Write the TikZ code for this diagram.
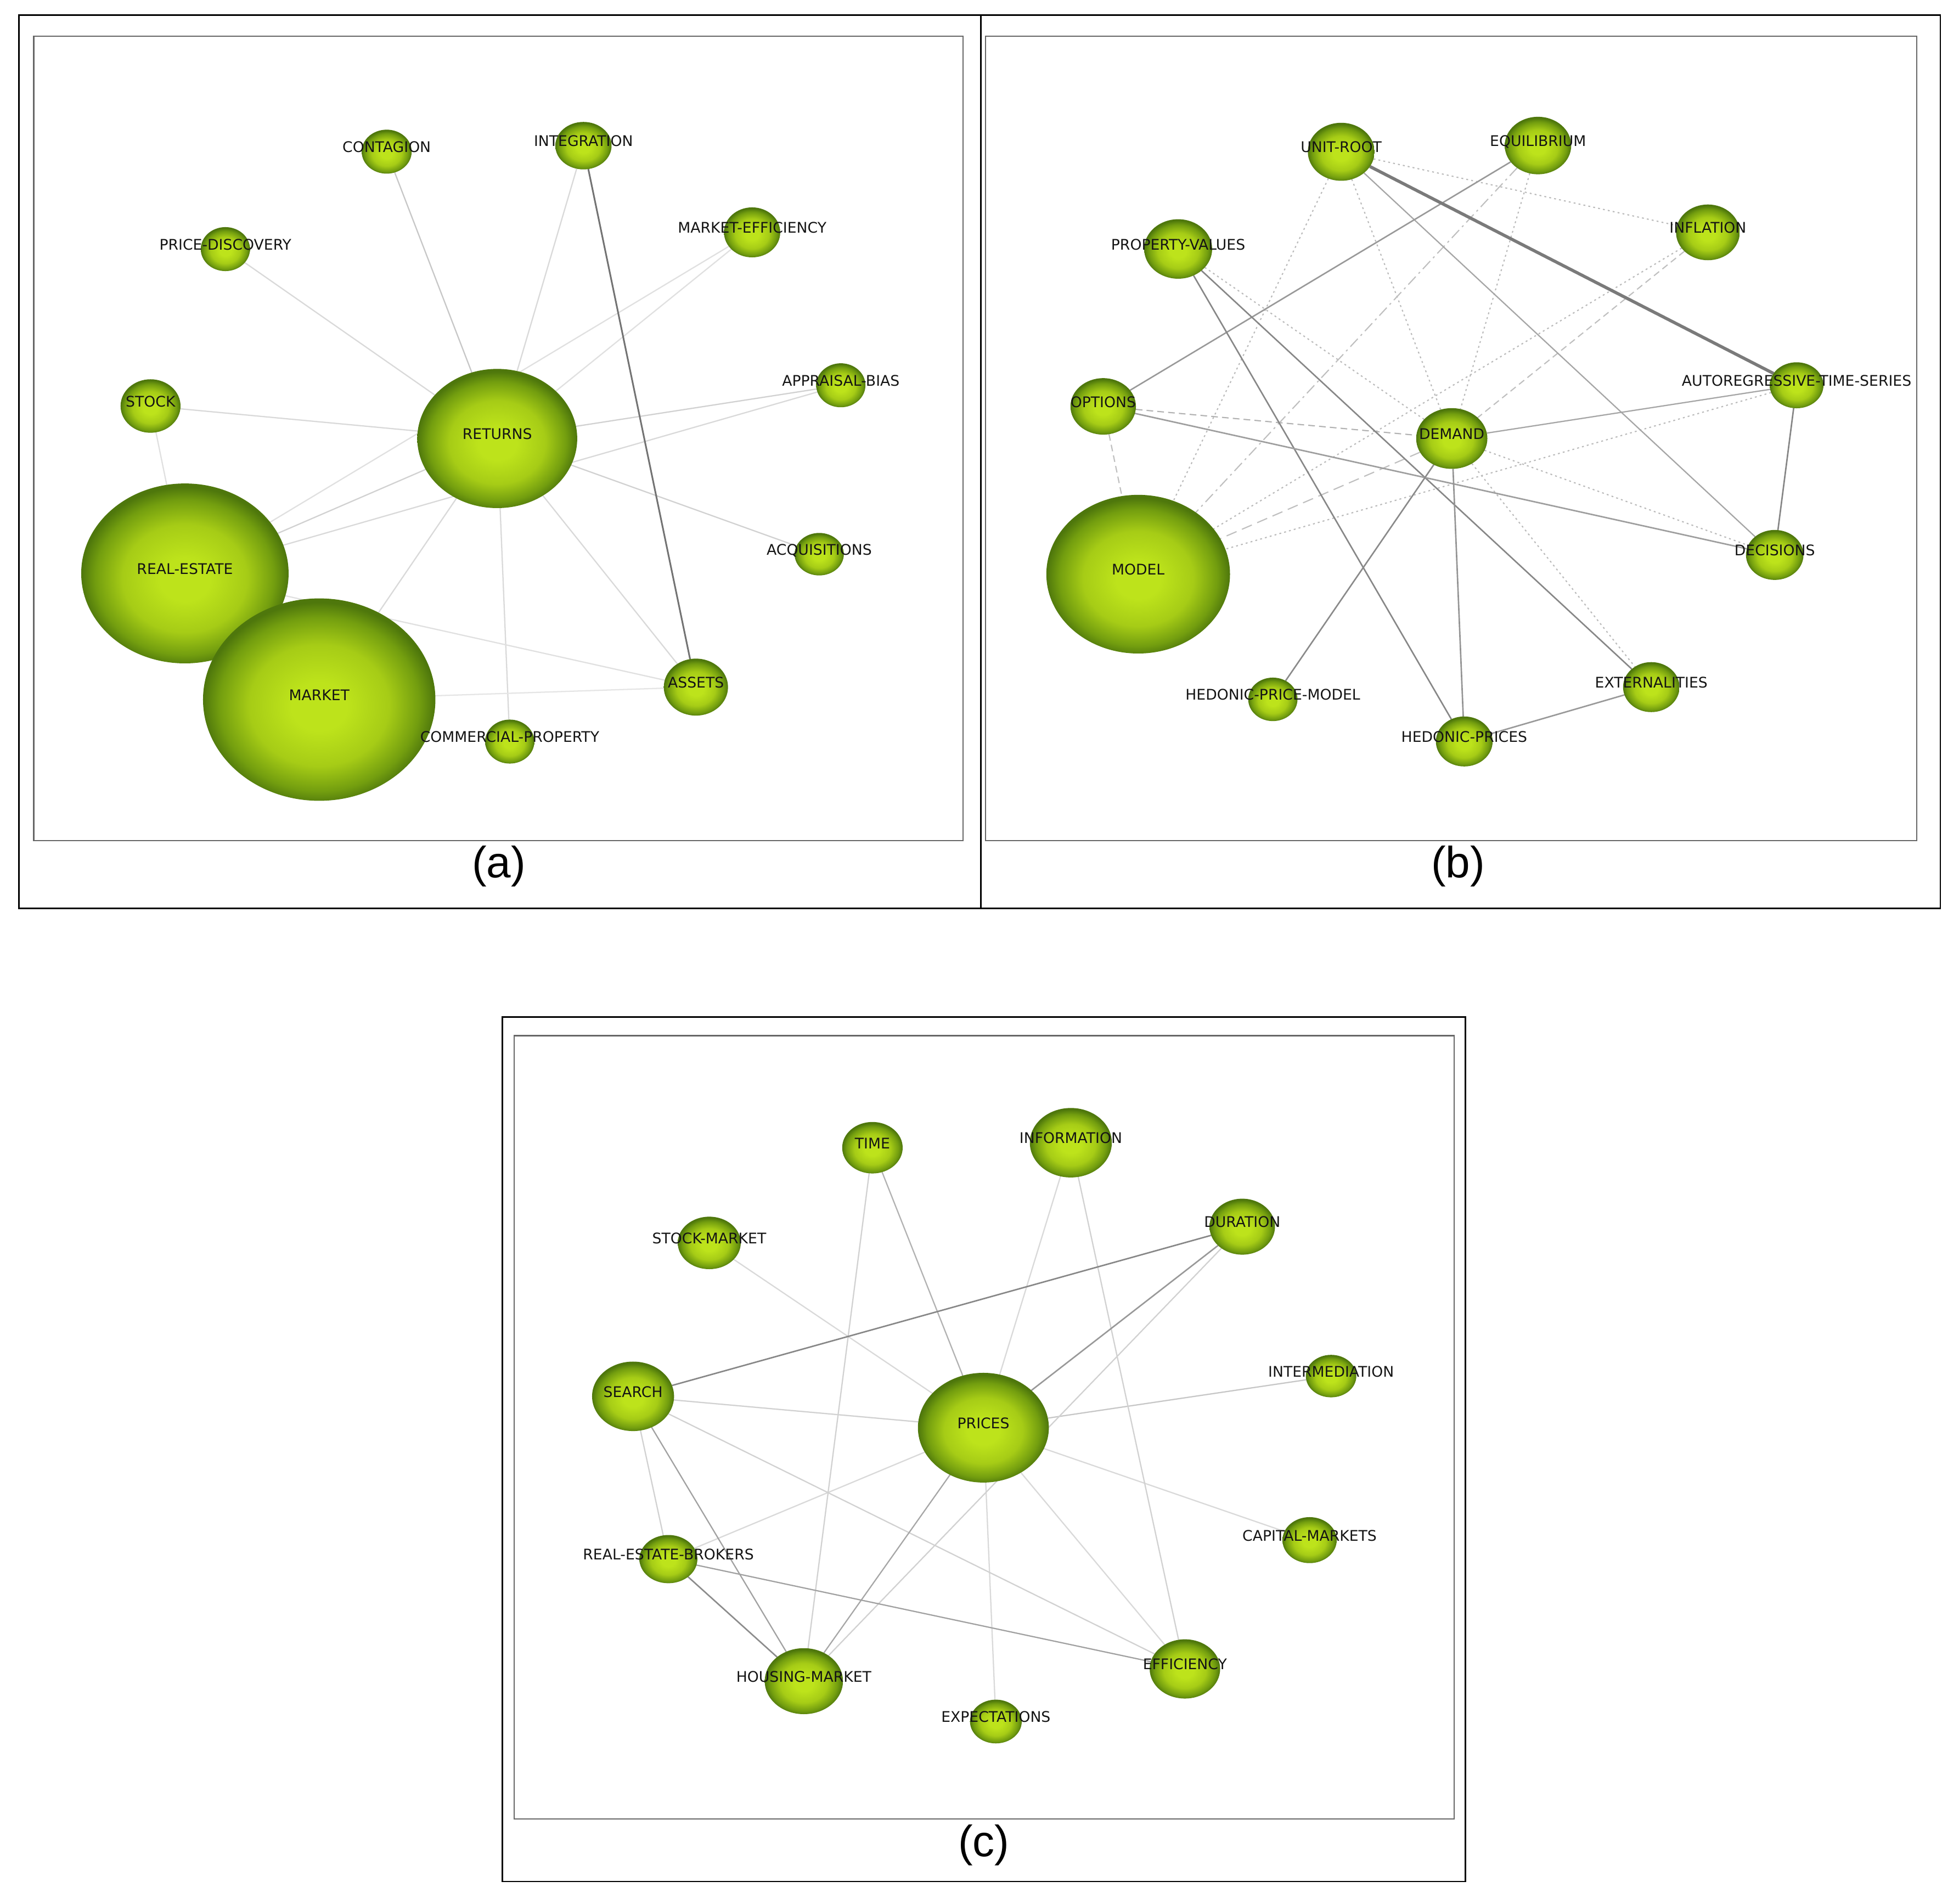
\documentclass[tikz,border=0pt]{standalone}
\usepackage{fontspec}
\usetikzlibrary{shapes.geometric}
\newfontfamily\labfont{DejaVu Sans}
\newfontfamily\capfont{Liberation Sans}
\definecolor{nbA}{HTML}{BDE31B}
\definecolor{nbB}{HTML}{A6CC16}
\definecolor{nbC}{HTML}{739E0F}
\definecolor{nbD}{HTML}{4E770C}
\pgfdeclareradialshading{nodeball}{\pgfpoint{0bp}{-2bp}}{color(0bp)=(nbA); color(6bp)=(nbA); color(15bp)=(nbB); color(21.5bp)=(nbC); color(25bp)=(nbD); color(50bp)=(nbD)}
\pgfdeclarelayer{back}
\pgfdeclarelayer{bg}
\pgfdeclarelayer{fg}
\pgfsetlayers{back,bg,main,fg}
\newcommand\mkball[6]{%
  \node[ballnode, minimum width=#4*0.6mm, minimum height=#5*0.6mm] (#1) at (#2,#3) {};
  \begin{pgfonlayer}{fg}\node[labnode] (#1-l) at (#2,#3+0.6) {#6};\end{pgfonlayer}}
\begin{document}
\begin{tikzpicture}[x=0.3mm,y=-0.3mm,
  ballnode/.style={ellipse, inner sep=0pt, outer sep=0pt, shading=nodeball, draw=none},
  labnode/.style={anchor=base, inner sep=0pt, font=\labfont\fontsize{10}{11}\selectfont, text=black!92},
  capnode/.style={inner sep=0pt, font=\capfont\fontsize{30}{30}\selectfont},
  frameout/.style={draw=black, line width=0.36mm},
  framein/.style={draw=black!60, line width=0.28mm},
  el/.style={draw=black!15, line width=0.3mm},
  em/.style={draw=black!35, line width=0.3mm},
  ed/.style={draw=black!50, line width=0.35mm},
  dt/.style={draw=black!27, line width=0.28mm, dash pattern=on 0.45mm off 0.75mm},
  ds/.style={draw=black!25, line width=0.28mm, dash pattern=on 1.6mm off 1mm},
  dl/.style={draw=black!25, line width=0.28mm, dash pattern=on 2.6mm off 1.4mm},
  dd/.style={draw=black!25, line width=0.28mm, dash pattern=on 2.6mm off 1mm on 0.5mm off 1mm}]
\begin{pgfonlayer}{back}
\fill[white] (0,0) rectangle (1568,1524);
\end{pgfonlayer}
\useasboundingbox (0,0) rectangle (1568,1524);
% frames
\draw[frameout] (15,12) rectangle (785,727);
\draw[frameout] (785,12) rectangle (1553,727);
\draw[frameout] (402,814) rectangle (1173,1506);
\draw[framein] (27,29) rectangle (771,673);
\draw[framein] (789,29) rectangle (1534,673);
\draw[framein] (411.5,829) rectangle (1164,1456);
\node[capnode] (capa) at (399.3,693.5) {(a)};
\node[capnode] (capb) at (1167,693.5) {(b)};
\node[capnode] (capc) at (787.5,1477) {(c)};
% ---------- panel (a)
\mkball{aCON}{309.5}{121.4}{20}{17.6}{CONTAGION}
\mkball{aINT}{467}{116.6}{22.5}{19}{INTEGRATION}
\mkball{aPD}{180.4}{199.4}{19.7}{17.6}{PRICE-DISCOVERY}
\mkball{aME}{602}{186}{22.5}{20}{MARKET-EFFICIENCY}
\mkball{aST}{120.5}{325}{24}{21.4}{STOCK}
\mkball{aRET}{398}{351}{64}{55.7}{RETURNS}
\mkball{aAB}{673}{308.4}{19.7}{17.6}{APPRAISAL-BIAS}
\mkball{aRE}{148}{459}{83}{72}{REAL-ESTATE}
\mkball{aACQ}{655.7}{443.6}{19.7}{17}{ACQUISITIONS}
\mkball{aMK}{255.5}{560}{93}{81}{MARKET}
\mkball{aAS}{557}{550}{25.7}{22.8}{ASSETS}
\mkball{aCP}{408}{593.6}{19.7}{17.6}{COMMERCIAL-PROPERTY}
\begin{pgfonlayer}{bg}
\draw[el, draw=black!22] (aRET) -- (aCON);
\draw[el] (aRET) -- (aINT);
\draw[el] (aRET) -- (aPD);
\draw[el, draw=black!12] (aRET) -- (aME);
\draw[el, draw=black!12] (aRE) -- (aME);
\draw[el] (aRET) -- (aST);
\draw[el, draw=black!12] (aST) -- (aRE);
\draw[el, draw=black!18] (aRET) -- (aAB);
\draw[el] (aRE) -- (aAB);
\draw[el, draw=black!18] (aRET) -- (aACQ);
\draw[el, draw=black!18] (aRET) -- (aRE);
\draw[el] (aRET) -- (aMK);
\draw[el] (aRET) -- (aAS);
\draw[el] (aRET) -- (aCP);
\draw[el, draw=black!10] (aMK) -- (aAS);
\draw[el, draw=black!12] (aRE) -- (aAS);
\draw[ed, draw=black!55, line width=0.4mm] (aINT) -- (aAS);
\end{pgfonlayer}
% ---------- panel (b)
\mkball{bUR}{1073.5}{121.5}{26.7}{23.2}{UNIT-ROOT}
\mkball{bEQ}{1231}{116.5}{26.6}{23}{EQUILIBRIUM}
\mkball{bINF}{1367}{186}{25.5}{22.3}{INFLATION}
\mkball{bPV}{943}{199.3}{27.2}{23.8}{PROPERTY-VALUES}
\mkball{bAR}{1438}{308.4}{21.5}{18.4}{AUTOREGRESSIVE-TIME-SERIES}
\mkball{bOPT}{883}{325.3}{26.2}{22.6}{OPTIONS}
\mkball{bDEM}{1162}{351}{28.5}{24.3}{DEMAND}
\mkball{bDEC}{1420.5}{444.2}{23}{20}{DECISIONS}
\mkball{bMOD}{911}{459.6}{73.5}{63.5}{MODEL}
\mkball{bHPM}{1018.8}{559.8}{19.7}{17.4}{HEDONIC-PRICE-MODEL}
\mkball{bEXT}{1321.7}{550}{22.6}{20}{EXTERNALITIES}
\mkball{bHP}{1172}{593.5}{22.7}{20}{HEDONIC-PRICES}
\begin{pgfonlayer}{bg}
\draw[dt] (bUR) -- (bINF);
\draw[dt] (bUR) -- (bDEM);
\draw[dt] (bUR) -- (bMOD);
\draw[dt] (bEQ) -- (bDEM);
\draw[dt] (bPV) -- (bDEM);
\draw[dt] (bINF) -- (bMOD);
\draw[dt] (bAR) -- (bMOD);
\draw[dt] (bDEM) -- (bDEC);
\draw[dt] (bDEM) -- (bEXT);
\draw[ds, draw=black!30] (bOPT) -- (bDEM);
\draw[ds] (bOPT) -- (bMOD);
\draw[ds] (bINF) -- (bDEM);
\draw[dl] (bDEM) -- (bMOD);
\draw[dd] (bEQ) -- (bMOD);
\draw[em] (bUR) -- (bDEC);
\draw[em] (bDEM) -- (bAR);
\draw[ed, draw=black!40] (bEQ) -- (bOPT);
\draw[ed, draw=black!47] (bPV) -- (bHP);
\draw[ed, draw=black!47] (bPV) -- (bEXT);
\draw[ed, draw=black!38] (bOPT) -- (bDEC);
\draw[ed, draw=black!46] (bDEM) -- (bHPM);
\draw[ed, draw=black!42] (bDEM) -- (bHP);
\draw[ed, draw=black!48] (bAR) -- (bDEC);
\draw[ed, draw=black!40] (bEXT) -- (bHP);
\draw[ed, draw=black!52, line width=0.75mm] (bUR) -- (bAR);
\end{pgfonlayer}
% ---------- panel (c)
\mkball{cTIME}{698.3}{918.7}{24.2}{20.6}{TIME}
\mkball{cINF}{857.1}{914.7}{32.8}{27.8}{INFORMATION}
\mkball{cSM}{567.7}{994.9}{25.2}{21}{STOCK-MARKET}
\mkball{cDUR}{994.3}{981.9}{26.2}{22.4}{DURATION}
\mkball{cSE}{506.7}{1117.7}{32.8}{27.8}{SEARCH}
\mkball{cPR}{787.1}{1142.8}{52.4}{43.9}{PRICES}
\mkball{cINT}{1065.4}{1101.5}{20.2}{17}{INTERMEDIATION}
\mkball{cCM}{1048.2}{1232.8}{21.7}{18.4}{CAPITAL-MARKETS}
\mkball{cREB}{535}{1248}{23.2}{19.3}{REAL-ESTATE-BROKERS}
\mkball{cHM}{643.4}{1345.7}{31.3}{26.4}{HOUSING-MARKET}
\mkball{cEXP}{797.1}{1378}{20.7}{17.5}{EXPECTATIONS}
\mkball{cEFF}{948.4}{1335.9}{28.2}{23.7}{EFFICIENCY}
\begin{pgfonlayer}{bg}
\draw[el] (cPR) -- (cINF);
\draw[el] (cPR) -- (cSM);
\draw[el, draw=black!18] (cPR) -- (cSE);
\draw[el, draw=black!22] (cPR) -- (cINT);
\draw[el] (cPR) -- (cCM);
\draw[el] (cPR) -- (cEFF);
\draw[el] (cPR) -- (cEXP);
\draw[el] (cPR) -- (cREB);
\draw[el, draw=black!18] (cDUR) -- (cHM);
\draw[el, draw=black!18] (cTIME) -- (cHM);
\draw[el, draw=black!18] (cINF) -- (cEFF);
\draw[el, draw=black!18] (cSE) -- (cREB);
\draw[el, draw=black!18] (cSE) -- (cEFF);
\draw[em, draw=black!30] (cPR) -- (cTIME);
\draw[em] (cPR) -- (cHM);
\draw[em, draw=black!37] (cSE) -- (cHM);
\draw[em, draw=black!37] (cREB) -- (cEFF);
\draw[ed, draw=black!45] (cREB) -- (cHM);
\draw[ed, draw=black!40] (cPR) -- (cDUR);
\draw[ed, draw=black!47] (cSE) -- (cDUR);
\end{pgfonlayer}
\end{tikzpicture}
\end{document}
